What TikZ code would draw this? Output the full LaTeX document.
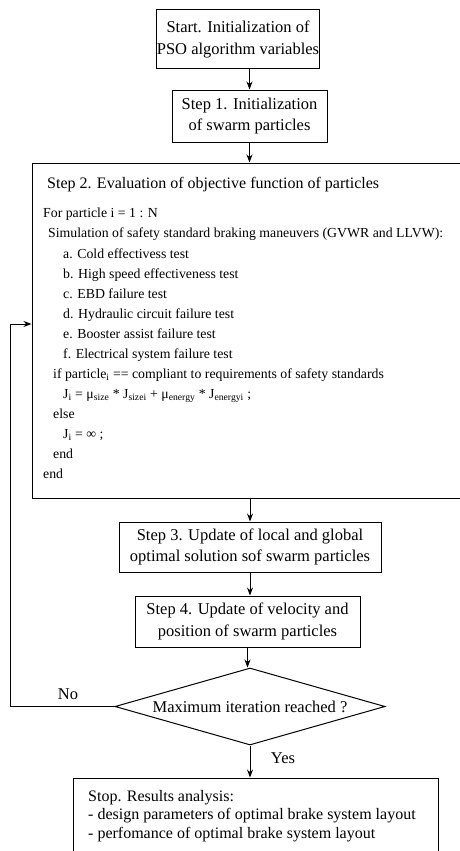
\documentclass[tikz,border=0pt]{standalone}
\usepackage{fontspec}
\setmainfont{Liberation Serif}
\usetikzlibrary{shapes.geometric,arrows.meta,positioning,calc}

\begin{document}
\begin{tikzpicture}[x=1pt, y=-1pt,
    block/.style={rectangle, draw, line width=1pt, align=center, inner sep=0pt,
        font=\fontsize{16.5}{21.5}\selectfont},
    frame/.style={rectangle, draw, line width=1pt, inner sep=0pt},
    decision/.style={diamond, draw, line width=1pt, aspect=3.5, inner sep=0pt,
        minimum width=270, minimum height=77, font=\fontsize{16.5}{20}\selectfont},
    codeline/.style={anchor=base west, inner sep=0pt, font=\fontsize{13.8}{16}\selectfont},
    result/.style={codeline, font=\fontsize{16}{19}\selectfont},
    tag/.style={inner sep=0pt, font=\fontsize{16.5}{20}\selectfont},
    flow/.style={-{Stealth[length=8pt, width=6pt]}, line width=1pt},
]
    \useasboundingbox (0,0) rectangle (459,851);

    % Blocks
    \node[block, minimum width=162, minimum height=59] (start) at (238,39.5)
        {Start. Initialization of\\PSO algorithm variables};
    \node[block, minimum width=155, minimum height=52] (step1) at (249.5,116)
        {Step 1. Initialization\\of swarm particles};
    \node[frame, minimum width=436, minimum height=335] (step2) at (250,330.5) {};
    \node[block, minimum width=262, minimum height=50] (step3) at (250,547)
        {Step 3. Update of local and global\\optimal solution sof swarm particles};
    \node[block, minimum width=225, minimum height=51] (step4) at (247.5,621.5)
        {Step 4. Update of velocity and\\position of swarm particles};
    \node[decision] (check) at (250,706.5) {Maximum iteration reached ?};
    \node[frame, minimum width=365, minimum height=92] (stop) at (255.5,824) {};

    % Step 2 contents
    \node[codeline, font=\fontsize{16}{19}\selectfont] (title) at (47,188)
        {Step 2. Evaluation of objective function of particles};
    \node[codeline] (for) at (43,217) {For particle i = 1 : N};
    \node[codeline] (sim) at (48,237)
        {Simulation of safety standard braking maneuvers (GVWR and LLVW):};
    \foreach \lbl/\txt [count=\n from 0] in {a/Cold effectivess test,
        b/High speed effectiveness test, c/EBD failure test,
        d/Hydraulic circuit failure test, e/Booster assist failure test,
        f/Electrical system failure test} {
        \node[codeline] (test\lbl) at (63,258+20*\n) {\lbl. \txt};
    }
    \node[codeline] (if) at (53,378)
        {if particle\textsubscript{i} == compliant to requirements of safety standards};
    \node[codeline] (cost) at (63,398)
        {J\textsubscript{i} = μ\textsubscript{size} * J\textsubscript{sizei} + μ\textsubscript{energy} * J\textsubscript{energyi} ;};
    \node[codeline] (else) at (53,418) {else};
    \node[codeline] (inf) at (63,438) {J\textsubscript{i} = ∞ ;};
    \node[codeline] (endif) at (53,458) {end};
    \node[codeline] (endfor) at (43,478) {end};

    % Stop contents
    \node[result] (res) at (88,801) {Stop. Results analysis:};
    \node[result] (res1) at (88,819.5) {- design parameters of optimal brake system layout};
    \node[result] (res2) at (88,838) {- perfomance of optimal brake system layout};

    % Arrows
    \draw[flow] (start.south -| step1.north) -- (step1.north);
    \draw[flow] (step1.south) -- (step1.south |- step2.north);
    \draw[flow] (step2.south -| step3.north) -- (step3.north);
    \draw[flow] (step3.south) -- (step3.south |- step4.north);
    \draw[flow] (step4.south) -- (step4.south |- check.north);
    \draw[flow] (check.south) -- (check.south |- stop.north);
    \node[tag] (yes) at (283,758) {Yes};

    % Loop back
    \coordinate (loop) at (10,324);
    \draw[flow] (check.west) -| (loop) -- (loop -| step2.west);
    \node[tag] (no) at (68,694) {No};
\end{tikzpicture}
\end{document}
